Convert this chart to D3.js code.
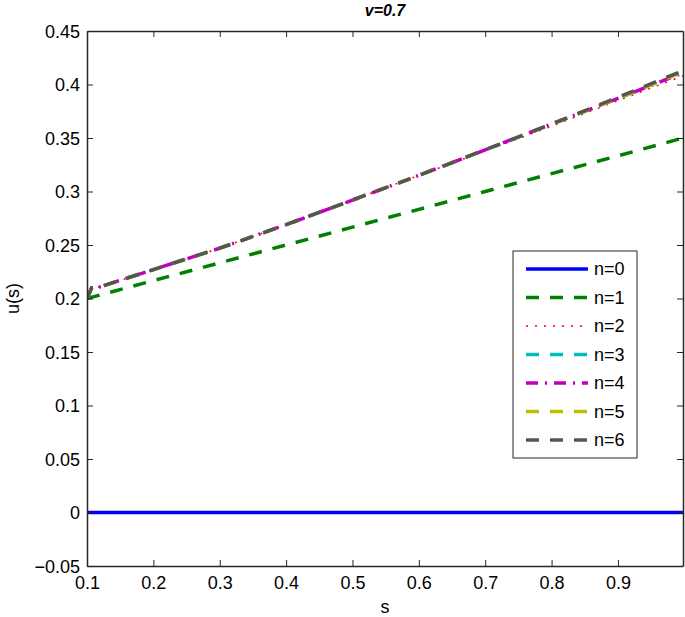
<!DOCTYPE html>
<html><head><meta charset="utf-8">
<script src="https://cdn.jsdelivr.net/npm/d3@7"></script>
<style>body{margin:0;background:#fff}svg{display:block;font-family:"Liberation Sans",Arial,sans-serif}</style>
</head><body>
<svg id="c" width="685" height="617"></svg>
<script>
const title = "v=0.7";
const xLabel = "s", yLabel = "u(s)";
const xTicks = [0.1,0.2,0.3,0.4,0.5,0.6,0.7,0.8,0.9];
const yTicks = [-0.05,0,0.05,0.1,0.15,0.2,0.25,0.3,0.35,0.4,0.45];
const seriesNames = ["n=0","n=1","n=2","n=3","n=4","n=5","n=6"];
const s0 = [0.1,0.2,0.3,0.4,0.5,0.6,0.7,0.8,0.9,0.998];
const u0 = [0,0,0,0,0,0,0,0,0,0];
const u1 = [0.200,0.2167,0.2333,0.250,0.2667,0.2833,0.300,0.3167,0.3333,0.350];
const sHi = [0.1,0.107,0.12,0.2,0.3,0.4,0.5,0.6,0.7,0.8,0.9,0.998];
const u2 = [0.200,0.210,0.211,0.227,0.247,0.269,0.292,0.315,0.338,0.361,0.385,0.408];
const u3 = [0.200,0.210,0.211,0.227,0.247,0.269,0.292,0.315,0.339,0.363,0.387,0.412];
const u4 = [0.200,0.210,0.211,0.227,0.247,0.269,0.292,0.315,0.339,0.363,0.387,0.411];
const u5 = [0.200,0.210,0.211,0.227,0.247,0.269,0.292,0.315,0.339,0.363,0.387,0.412];
const u6 = [0.200,0.210,0.211,0.227,0.247,0.269,0.292,0.315,0.339,0.363,0.388,0.413];
const colors = ["#0000ff","#008000","#ff0000","#00bfbf","#bf00bf","#bfbf00","#555555"];
const dashes = [null,"13,11","2,7","13,11","12,7,2,7","13,11","13,11"];
const widths = [3.5,3.5,1.5,3.5,3.5,3.5,3.5];

const series = [
  {x:s0,y:u0},{x:s0,y:u1},{x:sHi,y:u2},{x:sHi,y:u3},{x:sHi,y:u4},{x:sHi,y:u5},{x:sHi,y:u6}
];

const svg = d3.select("#c");
const L=87,T=31,R=683,B=566;
const x = d3.scaleLinear().domain([0.1,0.998]).range([L,R]);
const y = d3.scaleLinear().domain([-0.05,0.45]).range([B,T]);
const fmt = d3.format("~g");
const axisColor="#262626";

svg.append("defs").append("clipPath").attr("id","clip")
  .append("rect").attr("x",L).attr("y",T).attr("width",R-L).attr("height",B-T);

const line = d3.line().x(d=>x(d[0])).y(d=>y(d[1]));
const g = svg.append("g").attr("clip-path","url(#clip)");
series.forEach((sr,i)=>{
  const pts = sr.x.map((v,j)=>[v,sr.y[j]]);
  g.append("path").attr("d",line(pts)).attr("fill","none")
    .attr("stroke",colors[i]).attr("stroke-width",widths[i])
    .attr("stroke-dasharray",dashes[i]);
});

// axes
const tickLen=6;
const ax = svg.append("g");
const xb = d3.axisBottom(x).tickValues(xTicks).tickFormat(fmt).tickSizeInner(-tickLen).tickSizeOuter(0).tickPadding(10);
const xt = d3.axisTop(x).tickValues(xTicks).tickFormat("").tickSizeInner(-tickLen).tickSizeOuter(0);
const yl = d3.axisLeft(y).tickValues(yTicks).tickFormat(fmt).tickSizeInner(-tickLen).tickSizeOuter(0).tickPadding(7);
const yr = d3.axisRight(y).tickValues(yTicks).tickFormat("").tickSizeInner(-tickLen).tickSizeOuter(0);
const gxb = ax.append("g").attr("transform",`translate(0,${B})`).call(xb);
const gxt = ax.append("g").attr("transform",`translate(0,${T})`).call(xt);
const gyl = ax.append("g").attr("transform",`translate(${L},0)`).call(yl);
const gyr = ax.append("g").attr("transform",`translate(${R},0)`).call(yr);
[gxb,gxt,gyl,gyr].forEach(a=>{
  a.selectAll("path.domain").attr("stroke",axisColor).attr("stroke-width",1.5);
  a.selectAll(".tick line").attr("stroke",axisColor).attr("stroke-width",1);
  a.selectAll(".tick text").attr("fill","#000").style("font-size","18px").style("font-family","'Liberation Sans',Arial,sans-serif");
});
gyl.selectAll(".tick text").attr("dy","0.35em");

svg.append("text").attr("x",(L+R)/2).attr("y",16).attr("text-anchor","middle")
  .style("font-size","16px").style("font-weight","bold").style("font-style","italic").text(title);
svg.append("text").attr("x",(L+R)/2).attr("y",613).attr("text-anchor","middle")
  .style("font-size","18px").text(xLabel);
svg.append("text").attr("transform",`translate(19,${(T+B)/2}) rotate(-90)`).attr("text-anchor","middle")
  .style("font-size","18px").text(yLabel);

// legend
const lg = svg.append("g");
lg.append("rect").attr("x",513).attr("y",251).attr("width",124).attr("height",207)
  .attr("fill","#fff").attr("stroke",axisColor).attr("stroke-width",1);
seriesNames.forEach((nm,i)=>{
  const yy = 269 + i*28.5;
  lg.append("line").attr("x1",526).attr("x2",588).attr("y1",yy).attr("y2",yy)
    .attr("stroke",colors[i]).attr("stroke-width",widths[i]).attr("stroke-dasharray",dashes[i]);
  lg.append("text").attr("x",594).attr("y",yy).attr("dy","0.36em")
    .style("font-size","18px").text(nm);
});
</script>
</body></html>
